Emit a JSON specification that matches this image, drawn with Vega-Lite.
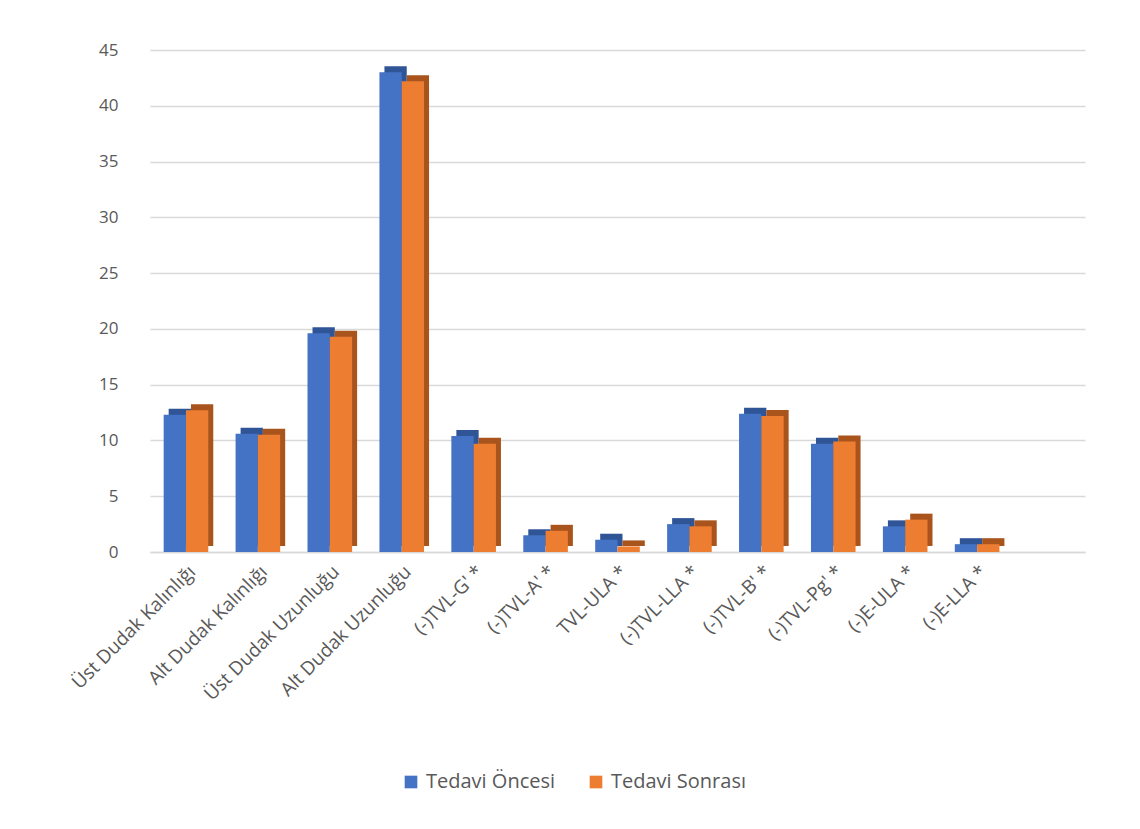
{
  "$schema": "https://vega.github.io/schema/vega-lite/v6.json",
  "autosize": {"type": "none"},
  "width": 935,
  "height": 502,
  "padding": {"left": 150, "top": 50, "right": 55, "bottom": 277},
  "background": "white",
  "config": {
    "font": "Open Sans",
    "view": {"stroke": null},
    "axis": {"labelFont": "Open Sans", "labelColor": "#595959", "labelFontSize": 17}
  },
  "data": {"values": [
    {"olcum": "Üst Dudak Kalınlığı", "grup": "Tedavi Öncesi", "deger": 12.3},
    {"olcum": "Üst Dudak Kalınlığı", "grup": "Tedavi Sonrası", "deger": 12.7},
    {"olcum": "Alt Dudak Kalınlığı", "grup": "Tedavi Öncesi", "deger": 10.6},
    {"olcum": "Alt Dudak Kalınlığı", "grup": "Tedavi Sonrası", "deger": 10.5},
    {"olcum": "Üst Dudak Uzunluğu", "grup": "Tedavi Öncesi", "deger": 19.6},
    {"olcum": "Üst Dudak Uzunluğu", "grup": "Tedavi Sonrası", "deger": 19.3},
    {"olcum": "Alt Dudak Uzunluğu", "grup": "Tedavi Öncesi", "deger": 43.0},
    {"olcum": "Alt Dudak Uzunluğu", "grup": "Tedavi Sonrası", "deger": 42.2},
    {"olcum": "(-)TVL-G' *", "grup": "Tedavi Öncesi", "deger": 10.4},
    {"olcum": "(-)TVL-G' *", "grup": "Tedavi Sonrası", "deger": 9.7},
    {"olcum": "(-)TVL-A' *", "grup": "Tedavi Öncesi", "deger": 1.5},
    {"olcum": "(-)TVL-A' *", "grup": "Tedavi Sonrası", "deger": 1.9},
    {"olcum": "TVL-ULA *", "grup": "Tedavi Öncesi", "deger": 1.1},
    {"olcum": "TVL-ULA *", "grup": "Tedavi Sonrası", "deger": 0.5},
    {"olcum": "(-)TVL-LLA *", "grup": "Tedavi Öncesi", "deger": 2.5},
    {"olcum": "(-)TVL-LLA *", "grup": "Tedavi Sonrası", "deger": 2.3},
    {"olcum": "(-)TVL-B' *", "grup": "Tedavi Öncesi", "deger": 12.4},
    {"olcum": "(-)TVL-B' *", "grup": "Tedavi Sonrası", "deger": 12.2},
    {"olcum": "(-)TVL-Pg' *", "grup": "Tedavi Öncesi", "deger": 9.7},
    {"olcum": "(-)TVL-Pg' *", "grup": "Tedavi Sonrası", "deger": 9.9},
    {"olcum": "(-)E-ULA *", "grup": "Tedavi Öncesi", "deger": 2.3},
    {"olcum": "(-)E-ULA *", "grup": "Tedavi Sonrası", "deger": 2.9},
    {"olcum": "(-)E-LLA *", "grup": "Tedavi Öncesi", "deger": 0.7},
    {"olcum": "(-)E-LLA *", "grup": "Tedavi Sonrası", "deger": 0.7}
  ]},
  "encoding": {
    "x": {
      "field": "olcum", "type": "nominal", "title": null,
      "sort": null,
      "scale": {
        "domain": ["Üst Dudak Kalınlığı", "Alt Dudak Kalınlığı", "Üst Dudak Uzunluğu", "Alt Dudak Uzunluğu", "(-)TVL-G' *", "(-)TVL-A' *", "TVL-ULA *", "(-)TVL-LLA *", "(-)TVL-B' *", "(-)TVL-Pg' *", "(-)E-ULA *", "(-)E-LLA *", " "],
        "paddingInner": 0.38, "paddingOuter": 0.19
      },
      "axis": {"labelAngle": -45, "ticks": false, "domainColor": "#d9d9d9", "domainWidth": 1.5, "labelPadding": 10, "labelFontSize": 19, "labelLimit": 400}
    },
    "y": {
      "field": "deger", "type": "quantitative", "title": null,
      "scale": {"domain": [0, 45]},
      "axis": {"values": [0, 5, 10, 15, 20, 25, 30, 35, 40, 45], "domain": false, "ticks": false, "labelPadding": 32, "gridColor": "#d9d9d9", "gridWidth": 1.5}
    }
  },
  "layer": [
    {
      "mark": {"type": "bar", "yOffset": -6},
      "encoding": {
        "xOffset": {"field": "grup", "type": "nominal", "sort": ["Tedavi Öncesi", "Tedavi Sonrası"], "scale": {"range": [5, 49.6]}},
        "color": {"field": "grup", "type": "nominal", "legend": null,
          "scale": {"domain": ["Tedavi Öncesi", "Tedavi Sonrası"], "range": ["#2f5597", "#a9541d"]}}
      }
    },
    {
      "mark": {"type": "bar"},
      "encoding": {
        "xOffset": {"field": "grup", "type": "nominal", "sort": ["Tedavi Öncesi", "Tedavi Sonrası"]},
        "color": {"field": "grup", "type": "nominal", "title": null,
          "scale": {"domain": ["Tedavi Öncesi", "Tedavi Sonrası"], "range": ["#4472c4", "#ed7d31"]},
          "legend": {"orient": "none", "legendX": 251, "legendY": 722, "direction": "horizontal", "symbolType": "square", "symbolSize": 160, "symbolStrokeWidth": 0, "labelFontSize": 20, "labelColor": "#595959", "columnPadding": 30, "labelOffset": 5}
        }
      }
    }
  ],
  "resolve": {"scale": {"color": "independent", "xOffset": "independent"}}
}
